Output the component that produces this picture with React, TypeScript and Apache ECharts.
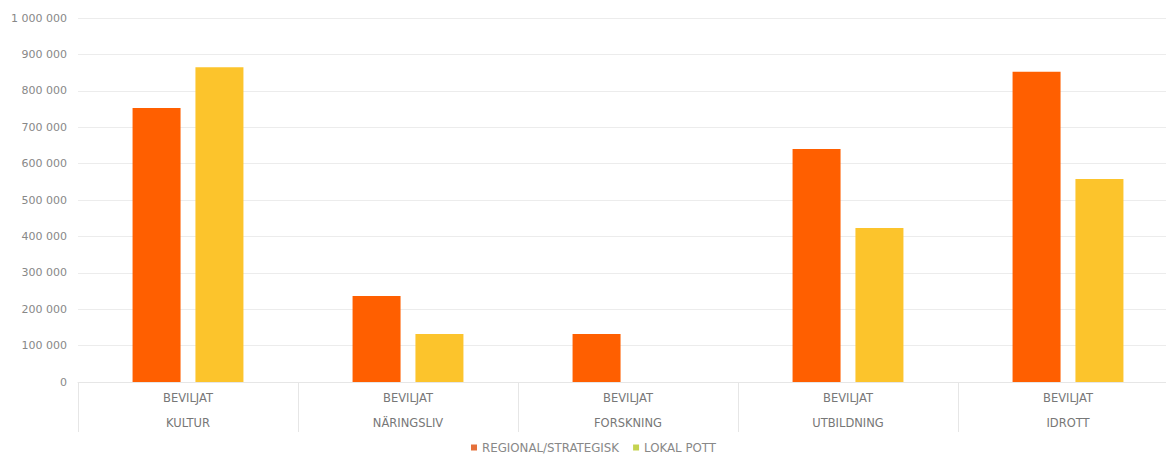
import React, { useEffect, useRef } from "react";
import * as echarts from "echarts";

const categories = ["BEVILJAT\nKULTUR", "BEVILJAT\nNÄRINGSLIV", "BEVILJAT\nFORSKNING", "BEVILJAT\nUTBILDNING", "BEVILJAT\nIDROTT"];
const regional = [753000, 236000, 132000, 640000, 852000];
const lokal = [865000, 132000, 0, 423000, 558000];
const seriesNames = ["REGIONAL/STRATEGISK", "LOKAL POTT"];

const fmt = (v: number) => String(v).replace(/\B(?=(\d{3})+(?!\d))/g, " ");

export default function App() {
  const ref = useRef<HTMLDivElement>(null);
  useEffect(() => {
    const chart = echarts.init(ref.current!, undefined, { renderer: "svg" });
    const font = "'DejaVu Sans', sans-serif";
    chart.setOption({
      animation: false,
      textStyle: { fontFamily: font },
      grid: { left: 78, top: 18, width: 1100, height: 364, containLabel: false },
      legend: {
        top: 441,
        left: 471,
        padding: 0,
        icon: "rect",
        itemWidth: 6,
        itemHeight: 6,
        itemGap: 14,
        textStyle: { fontSize: 11.8, color: "#888", fontFamily: font, lineHeight: 13 },
        data: [
          { name: seriesNames[0], itemStyle: { color: "#E5703A" } },
          { name: seriesNames[1], itemStyle: { color: "#C5D350" } },
        ],
      },
      xAxis: {
        type: "category",
        data: categories,
        axisLine: { lineStyle: { color: "#e6e6e6" } },
        axisTick: { show: true, length: 50, lineStyle: { color: "#e6e6e6" } },
        axisLabel: { color: "#777", fontSize: 11.5, lineHeight: 25, margin: 3 },
      },
      yAxis: {
        type: "value",
        min: 0,
        max: 1000000,
        interval: 100000,
        axisLine: { show: false },
        axisTick: { show: false },
        splitLine: { lineStyle: { color: "#ececec" } },
        axisLabel: { color: "#888", fontSize: 11, margin: 11, formatter: (v: number) => fmt(v) },
      },
      series: [
        { name: seriesNames[0], type: "bar", data: regional, barWidth: 48, barGap: "31%", itemStyle: { color: "#FF5F00" } },
        { name: seriesNames[1], type: "bar", data: lokal, barWidth: 48, barGap: "31%", itemStyle: { color: "#FCC42C" } },
      ],
    });
    return () => chart.dispose();
  }, []);
  return (
    <div style={{ position: "absolute", left: 0, top: 0, width: 1166, height: 456, overflow: "hidden" }}>
      <div ref={ref} style={{ width: 1200, height: 456 }} />
    </div>
  );
}
